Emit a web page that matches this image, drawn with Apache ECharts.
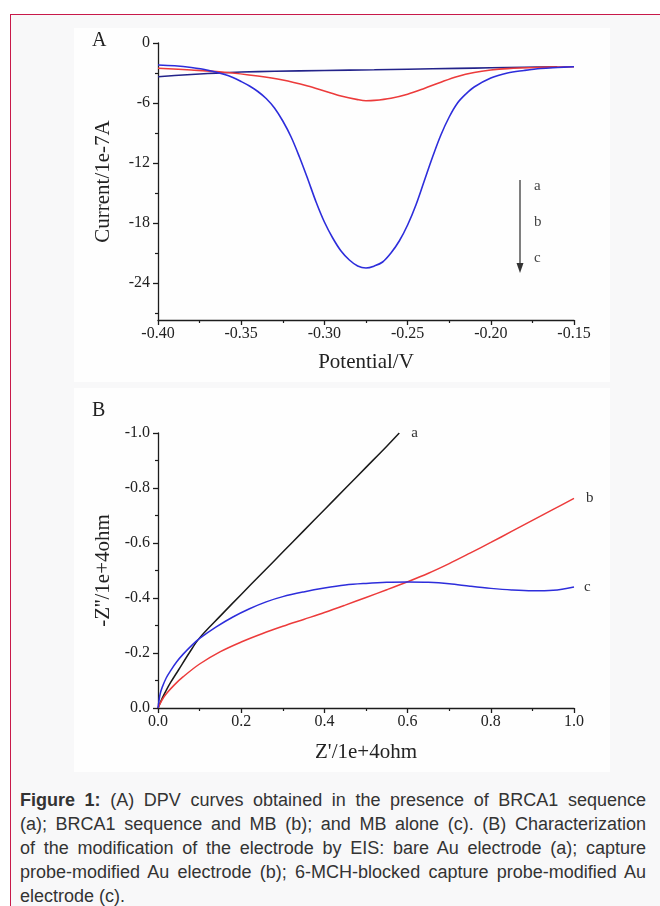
<!DOCTYPE html>
<html>
<head>
<meta charset="utf-8">
<script src="https://cdn.jsdelivr.net/npm/echarts@6/dist/echarts.min.js"></script>
<style>
html, body { margin:0; padding:0; width:660px; height:906px; background:#fff; overflow:hidden; }
#frame { position:absolute; left:10px; top:14px; width:700px; height:1000px; border:1.5px solid #c8194a; background:#f8f8f9; }
#chart { position:absolute; left:0; top:0; width:660px; height:780px; }
#caption { position:absolute; left:20px; top:788px; width:626px; font-family:"Liberation Sans", Arial, sans-serif; font-size:18px; line-height:24px; color:#333; }
#caption div { text-align:justify; text-align-last:justify; white-space:nowrap; }
#caption div.last { text-align-last:left; }
</style>
</head>
<body>
<div id="frame"></div>
<div id="chart"></div>
<div id="caption">
  <div><b>Figure 1:</b> (A) DPV curves obtained in the presence of BRCA1 sequence</div>
  <div>(a); BRCA1 sequence and MB (b); and MB alone (c). (B) Characterization</div>
  <div>of the modification of the electrode by EIS: bare Au electrode (a); capture</div>
  <div>probe-modified Au electrode (b); 6-MCH-blocked capture probe-modified Au</div>
  <div class="last">electrode (c).</div>
</div>
<script>
// panel A: DPV curves, potential (V) vs current (1e-7 A)
var potA = [-0.40, -0.39, -0.38, -0.37, -0.36, -0.35, -0.33, -0.30, -0.27, -0.25, -0.22, -0.20, -0.18, -0.16];
var curA = [-3.37, -3.25, -3.15, -3.05, -2.97, -2.90, -2.83, -2.75, -2.68, -2.62, -2.54, -2.48, -2.43, -2.38];

var potB = [-0.40, -0.38, -0.36, -0.34, -0.325, -0.31, -0.30, -0.29, -0.28, -0.275, -0.27, -0.26, -0.25, -0.24, -0.23, -0.22, -0.21, -0.20, -0.19, -0.17, -0.15];
var curB = [-2.53, -2.70, -2.92, -3.30, -3.70, -4.30, -4.80, -5.30, -5.66, -5.77, -5.74, -5.52, -5.12, -4.55, -3.92, -3.35, -2.95, -2.70, -2.56, -2.44, -2.37];

var potC = [-0.40, -0.39, -0.38, -0.37, -0.36, -0.355, -0.35, -0.345, -0.34, -0.335, -0.33, -0.325, -0.32, -0.315, -0.31, -0.305, -0.30, -0.295, -0.29, -0.285, -0.28, -0.275,
            -0.27, -0.265, -0.26, -0.255, -0.25, -0.245, -0.24, -0.235, -0.23, -0.225, -0.22, -0.215, -0.21, -0.20, -0.19, -0.18, -0.17, -0.16, -0.15];
var curC = [-2.20, -2.28, -2.45, -2.72, -3.15, -3.45, -3.85, -4.30, -4.85, -5.55, -6.50, -7.80, -9.40, -11.4, -13.6, -15.9, -17.9, -19.5, -20.8, -21.7, -22.3, -22.5,
            -22.3, -21.9, -21.0, -19.8, -18.2, -16.2, -13.8, -11.4, -9.20, -7.40, -6.00, -5.10, -4.40, -3.50, -3.00, -2.75, -2.55, -2.45, -2.37];

var curMajorTicks = [-24, -18, -12, -6, 0];
var curMinorTicks = [-27, -21, -15, -9, -3];

// panel B: Nyquist plots, Z' vs Z'' (1e+4 ohm)
var zReA = [0, 0.01, 0.02, 0.03, 0.05, 0.075, 0.10, 0.15, 0.20, 0.25, 0.30, 0.35, 0.40, 0.45, 0.50, 0.55, 0.58];
var zImA = [0, -0.035, -0.065, -0.092, -0.14, -0.20, -0.255, -0.335, -0.413, -0.49, -0.567, -0.644, -0.721, -0.798, -0.875, -0.952, -1.0];

var zReB = [0, 0.01, 0.02, 0.04, 0.06, 0.10, 0.15, 0.20, 0.25, 0.30, 0.35, 0.40, 0.45, 0.50, 0.55, 0.60, 0.65, 0.70, 0.75, 0.80, 0.85, 0.90, 0.95, 1.0];
var zImB = [0, -0.03, -0.052, -0.085, -0.113, -0.16, -0.205, -0.24, -0.27, -0.297, -0.322, -0.347, -0.374, -0.402, -0.43, -0.459, -0.49, -0.525, -0.563, -0.602, -0.642, -0.682, -0.722, -0.762];

var zReC = [0, 0.005, 0.01, 0.02, 0.03, 0.045, 0.06, 0.08, 0.10, 0.14, 0.18, 0.22, 0.26, 0.30, 0.35, 0.40, 0.45, 0.50, 0.55, 0.60, 0.65, 0.70, 0.75, 0.80, 0.85, 0.90, 0.95, 1.0];
var zImC = [0, -0.05, -0.075, -0.11, -0.135, -0.168, -0.195, -0.226, -0.253, -0.295, -0.331, -0.361, -0.386, -0.405, -0.422, -0.436, -0.447, -0.453, -0.457, -0.458, -0.457, -0.452, -0.443, -0.435, -0.429, -0.426, -0.428, -0.44];

function pairs(xs, ys) {
  return xs.map(function (x, i) { return [x, ys[i]]; });
}

var serif = '"Liberation Serif", "Times New Roman", serif';
var ink = '#1c1c1c';
var axisLine = { show: true, onZero: false, lineStyle: { color: ink, width: 1.3 } };
var axisTick = { show: true, length: 5, lineStyle: { color: ink, width: 1.3 } };
var minorTick = { show: true, splitNumber: 2, length: 3, lineStyle: { color: ink, width: 1.2 } };
var labelStyle = { color: '#222', fontFamily: serif, fontSize: 16 };
var nameStyle = { color: '#222', fontFamily: serif, fontSize: 21 };

var chart = echarts.init(document.getElementById('chart'));

function curve(xi, yi, xs, ys, color, width, tag, dist) {
  var s = {
    type: 'line', xAxisIndex: xi, yAxisIndex: yi, data: pairs(xs, ys),
    showSymbol: false, smooth: 0.35,
    lineStyle: { color: color, width: width }
  };
  if (tag) {
    s.endLabel = { show: true, formatter: tag, distance: dist, fontFamily: serif, fontSize: 15, color: '#333' };
  }
  return s;
}

var option = {
  animation: false,
  grid: [
    { left: 158, top: 43, width: 416, height: 277 },
    { left: 158, top: 433, width: 416, height: 275 }
  ],
  xAxis: [
    {
      gridIndex: 0, type: 'value', min: -0.4, max: -0.15, interval: 0.05,
      axisLine: axisLine, axisTick: axisTick, minorTick: minorTick, splitLine: { show: false },
      axisLabel: Object.assign({ margin: 6, formatter: function (v) { return v.toFixed(2); } }, labelStyle),
      name: 'Potential/V', nameLocation: 'middle', nameGap: 32, nameTextStyle: nameStyle
    },
    {
      gridIndex: 1, type: 'value', min: 0, max: 1, interval: 0.2,
      axisLine: axisLine, axisTick: axisTick, minorTick: minorTick, splitLine: { show: false },
      axisLabel: Object.assign({ margin: 6, formatter: function (v) { return v.toFixed(1); } }, labelStyle),
      name: "Z'/1e+4ohm", nameLocation: 'middle', nameGap: 34, nameTextStyle: nameStyle
    }
  ],
  yAxis: [
    {
      gridIndex: 0, type: 'value', min: -27.7, max: 0,
      axisLine: axisLine,
      axisTick: Object.assign({ customValues: curMajorTicks }, axisTick),
      splitLine: { show: false },
      axisLabel: Object.assign({ margin: 8, customValues: curMajorTicks }, labelStyle),
      name: 'Current/1e-7A', nameLocation: 'middle', nameRotate: 90, nameGap: 44, nameTextStyle: nameStyle
    },
    {
      gridIndex: 0, type: 'value', min: -27.7, max: 0, position: 'left',
      axisLine: { show: false },
      axisTick: { show: true, length: 3, customValues: curMinorTicks, lineStyle: { color: ink, width: 1.2 } },
      axisLabel: { show: false, customValues: curMinorTicks },
      splitLine: { show: false }
    },
    {
      gridIndex: 1, type: 'value', min: -1, max: 0, interval: 0.2, inverse: true,
      axisLine: axisLine, axisTick: axisTick, minorTick: minorTick, splitLine: { show: false },
      axisLabel: Object.assign({ margin: 8, formatter: function (v) { return Math.abs(v) < 1e-9 ? '0.0' : v.toFixed(1); } }, labelStyle),
      name: "-Z''/1e+4ohm", nameLocation: 'middle', nameRotate: 90, nameGap: 44, nameTextStyle: nameStyle
    }
  ],
  graphic: [
    { type: 'rect', z: -1, shape: { x: 74, y: 28, width: 536, height: 354 }, style: { fill: '#fefefe' } },
    { type: 'rect', z: -1, shape: { x: 74, y: 388, width: 536, height: 384 }, style: { fill: '#fefefe' } },
    { type: 'text', left: 92, top: 31, style: { text: 'A', font: '20px ' + serif, fill: '#222' } },
    { type: 'text', left: 92, top: 401, style: { text: 'B', font: '20px ' + serif, fill: '#222' } },
    { type: 'line', shape: { x1: 520, y1: 180, x2: 520, y2: 265 }, style: { stroke: '#555', lineWidth: 1.5 } },
    { type: 'polygon', shape: { points: [[516.5, 263], [523.5, 263], [520, 273]] }, style: { fill: '#333' } },
    { type: 'text', x: 534, y: 186, style: { text: 'a', font: '15px ' + serif, fill: '#444', verticalAlign: 'middle' } },
    { type: 'text', x: 534, y: 222, style: { text: 'b', font: '15px ' + serif, fill: '#444', verticalAlign: 'middle' } },
    { type: 'text', x: 534, y: 258, style: { text: 'c', font: '15px ' + serif, fill: '#444', verticalAlign: 'middle' } }
  ],
  series: [
    curve(0, 0, potA, curA, '#23238a', 1.6),
    curve(0, 0, potB, curB, '#ec3b3b', 1.6),
    curve(0, 0, potC, curC, '#2d2ddb', 1.6),
    curve(1, 2, zReA, zImA, '#1a1a1a', 1.5, 'a', 12),
    curve(1, 2, zReB, zImB, '#ec3b3b', 1.5, 'b', 12),
    curve(1, 2, zReC, zImC, '#2d2ddb', 1.5, 'c', 10)
  ]
};

chart.setOption(option);
</script>
</body>
</html>
